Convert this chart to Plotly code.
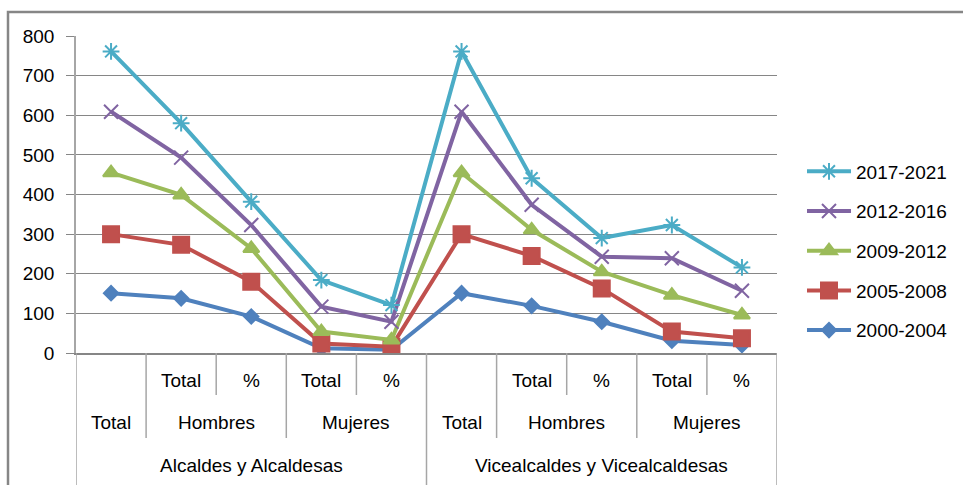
import plotly.graph_objects as go

# ---------------- data ----------------
row1_labels = ["", "Total", "%", "Total", "%", "", "Total", "%", "Total", "%"]
row2_labels = ["Total", "Hombres", "Hombres", "Mujeres", "Mujeres",
               "Total", "Hombres", "Hombres", "Mujeres", "Mujeres"]
row3_labels = ["Alcaldes y Alcaldesas"] * 5 + ["Vicealcaldes y Vicealcaldesas"] * 5

series_names = ["2000-2004", "2005-2008", "2009-2012", "2012-2016", "2017-2021"]
v2000 = [151, 138, 92, 12, 8, 151, 119, 79, 31, 20]
v2005 = [149, 135, 88, 12, 8, 149, 126, 84, 23, 17]
v2009 = [155, 126, 84, 30, 17, 155, 66, 42, 92, 59]
v2012 = [154, 94, 59, 63, 46, 154, 63, 38, 93, 61]
v2017 = [152, 87, 59, 67, 42, 152, 67, 47, 84, 59]
series_values = [v2000, v2005, v2009, v2012, v2017]

y_ticks = [0, 100, 200, 300, 400, 500, 600, 700, 800]

# ---------------- styles ----------------
colors = ["#4F81BD", "#C0504D", "#9BBB59", "#8064A2", "#4BACC6"]
symbols = ["diamond", "square", "triangle-up", "x-thin-open", "asterisk-open"]
msizes = [11, 16, 14, 14, 14]
FONT = "Liberation Sans"
FS = 19
GRID = "#868686"
SEP = "#A6A6A6"

n = len(row1_labels)
x_idx = list(range(n))

fig = go.Figure()
for k, (name, vals, c, s, ms) in enumerate(zip(series_names, series_values, colors, symbols, msizes)):
    fig.add_trace(go.Scatter(
        x=x_idx, y=vals, name=name, mode="lines+markers",
        stackgroup="one", fill="none", legendgroup=name,
        legendrank=len(series_names) - k,
        line=dict(color=c, width=4),
        marker=dict(symbol=s, size=ms, color=c, line=dict(color=c, width=2)),
    ))

# plot geometry (paper units for rows below the axis)
plot_h = 317.0
plot_w = 701.0
def py(px_below):  # pixels below x-axis -> paper y
    return -px_below / plot_h

row_y = [py(27), py(69), py(112)]
row_bottom = [py(42), py(85), py(135)]

annotations = []
def runs(labels):
    out = []
    start = 0
    for i in range(1, len(labels) + 1):
        if i == len(labels) or labels[i] != labels[start]:
            out.append((labels[start], start, i - 1))
            start = i
    return out

for r, labels in enumerate([row1_labels, row2_labels, row3_labels]):
    for text, a, b in runs(labels):
        if text == "":
            continue
        annotations.append(dict(
            x=(a + b) / 2, y=row_y[r], xref="x", yref="paper",
            text=text, showarrow=False, xanchor="center", yanchor="middle",
            font=dict(family=FONT, size=FS, color="#000000")))

shapes = []
# separators between categories
bounds = [-0.5] + [i + 0.5 for i in range(n)]
for bx in bounds:
    i = int(bx - 0.5)
    if bx == -0.5 or bx == n - 0.5:
        depth = 2
    elif row3_labels[i] != row3_labels[i + 1]:
        depth = 2
    elif row2_labels[i] != row2_labels[i + 1]:
        depth = 1
    else:
        depth = 0
    shapes.append(dict(type="line", xref="x", yref="paper", x0=bx, x1=bx,
                       y0=0, y1=row_bottom[depth], line=dict(color=SEP, width=1.5)))

# outer chart border
shapes.append(dict(type="rect", xref="paper", yref="paper",
                   x0=(8 - 76) / plot_w, x1=1.5, y0=-0.8, y1=(353 - 12) / plot_h,
                   line=dict(color=GRID, width=2.5), fillcolor="rgba(0,0,0,0)"))

fig.update_layout(
    width=963, height=485,
    margin=dict(l=76, r=186, t=36, b=132, autoexpand=False),
    paper_bgcolor="white", plot_bgcolor="white",
    font=dict(family=FONT, size=FS, color="#000000"),
    showlegend=True,
    legend=dict(x=(802 - 76) / plot_w, xanchor="left", y=0.322, yanchor="middle",
                traceorder="grouped", tracegroupgap=12, itemwidth=44,
                font=dict(family=FONT, size=FS, color="#000000"),
                bgcolor="rgba(0,0,0,0)"),
    xaxis=dict(range=[-0.5, n - 0.5], showticklabels=False, showgrid=False,
               zeroline=False, showline=True, linecolor=GRID, linewidth=1.5,
               ticks=""),
    yaxis=dict(range=[0, 800], tickvals=y_ticks, showgrid=True, gridcolor=GRID,
               gridwidth=1.2, zeroline=False, showline=True, linecolor=SEP,
               linewidth=1.5, ticks="outside", ticklen=8, tickcolor=GRID,
               ticklabelstandoff=8,
               tickfont=dict(family=FONT, size=FS, color="#000000")),
    annotations=annotations, shapes=shapes,
)

fig.write_html("out.html", config={"displayModeBar": False},
               post_script="document.body.style.margin='0px';")
